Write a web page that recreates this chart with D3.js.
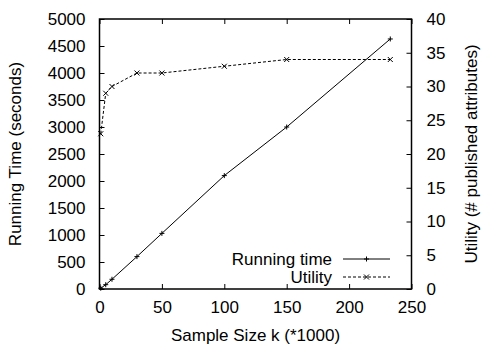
<!DOCTYPE html>
<html>
<head>
<meta charset="utf-8">
<script src="https://cdn.jsdelivr.net/npm/d3@7"></script>
<style>
  body { margin: 0; background: #fff; }
  svg text { font-family: "Liberation Sans", Arial, sans-serif; fill: #000; }
</style>
</head>
<body>
<div id="chart"></div>
<script>
// Sample sizes (k, in thousands)
const sampleSizes = [1, 5, 10, 30, 50, 100, 150, 233];
// Running time in seconds
const runningTime = [15, 80, 180, 600, 1030, 2100, 3000, 4630];
// Utility (# published attributes)
const utility = [23, 29, 30, 32, 32, 33, 34, 34];

const xTicks = [0, 50, 100, 150, 200, 250];
const yTicks = d3.range(0, 5001, 500);
const y2Ticks = d3.range(0, 41, 5);

const width = 483, height = 345;
const margins = {top: 19, right: 71.5, bottom: 56, left: 99.5};
const fontSize = 17;

const svg = d3.select("#chart")
  .append("svg")
  .attr("width", width)
  .attr("height", height)
  .attr("viewBox", [0, 0, width, height]);

const xScale = d3.scaleLinear()
  .domain([0, 250])
  .range([margins.left, width - margins.right]);

const yScale = d3.scaleLinear()
  .domain([0, 5000])
  .range([height - margins.bottom, margins.top]);

const y2Scale = d3.scaleLinear()
  .domain([0, 40])
  .range([height - margins.bottom, margins.top]);

// Axes, gnuplot style: ticks pointing inward
const styleAxis = g => {
  g.select(".domain").remove();
  g.selectAll("line").attr("stroke", "#000").attr("stroke-width", 1);
  g.selectAll("text").style("font-size", fontSize + "px").attr("fill", "#000");
};
const fmt = d3.format("d");

svg.append("g")
  .attr("transform", `translate(0,${height - margins.bottom})`)
  .call(d3.axisBottom(xScale).tickValues(xTicks).tickFormat(fmt).tickSizeInner(-5).tickSizeOuter(0).tickPadding(12))
  .call(styleAxis);

svg.append("g")
  .attr("transform", `translate(0,${margins.top})`)
  .call(d3.axisTop(xScale).tickValues(xTicks).tickSizeInner(-5).tickSizeOuter(0).tickFormat(""))
  .call(styleAxis);

svg.append("g")
  .attr("transform", `translate(${margins.left},0)`)
  .call(d3.axisLeft(yScale).tickValues(yTicks).tickFormat(fmt).tickSizeInner(-5).tickSizeOuter(0).tickPadding(14))
  .call(styleAxis);

svg.append("g")
  .attr("transform", `translate(${width - margins.right},0)`)
  .call(d3.axisRight(y2Scale).tickValues(y2Ticks).tickFormat(fmt).tickSizeInner(-5).tickSizeOuter(0).tickPadding(15))
  .call(styleAxis);

// Frame
svg.append("rect")
  .attr("x", margins.left)
  .attr("y", margins.top)
  .attr("width", width - margins.left - margins.right)
  .attr("height", height - margins.top - margins.bottom)
  .attr("fill", "none")
  .attr("stroke", "#000")
  .attr("stroke-width", 1.5);

// Axis titles
svg.append("text")
  .attr("x", (margins.left + width - margins.right) / 2)
  .attr("y", 335)
  .attr("dy", "0.35em")
  .attr("text-anchor", "middle")
  .style("font-size", fontSize + "px")
  .text("Sample Size k (*1000)");

svg.append("text")
  .attr("transform", `translate(14.7,${(margins.top + height - margins.bottom) / 2}) rotate(-90)`)
  .attr("dy", "0.35em")
  .attr("text-anchor", "middle")
  .style("font-size", fontSize + "px")
  .text("Running Time (seconds)");

svg.append("text")
  .attr("transform", `translate(471,${(margins.top + height - margins.bottom) / 2}) rotate(-90)`)
  .attr("dy", "0.35em")
  .attr("text-anchor", "middle")
  .style("font-size", fontSize + "px")
  .text("Utility (# published attributes)");

// Series
const timeData = sampleSizes.map((k, i) => ({k, v: runningTime[i]}));
const utilData = sampleSizes.map((k, i) => ({k, v: utility[i]}));

const timeLine = d3.line().x(d => xScale(d.k)).y(d => yScale(d.v));
const utilLine = d3.line().x(d => xScale(d.k)).y(d => y2Scale(d.v));

svg.append("path")
  .datum(timeData)
  .attr("d", timeLine)
  .attr("fill", "none")
  .attr("stroke", "#000")
  .attr("stroke-width", 1);

svg.append("path")
  .datum(utilData)
  .attr("d", utilLine)
  .attr("fill", "none")
  .attr("stroke", "#000")
  .attr("stroke-width", 1)
  .attr("stroke-dasharray", "3,2");

const plusPath = (x, y, s) => `M${x - s},${y}H${x + s}M${x},${y - s}V${y + s}`;
const crossPath = (x, y, s) => `M${x - s},${y - s}L${x + s},${y + s}M${x - s},${y + s}L${x + s},${y - s}`;

svg.selectAll("path.plus")
  .data(timeData)
  .join("path")
    .attr("class", "plus")
    .attr("d", d => plusPath(xScale(d.k), yScale(d.v), 2.5))
    .attr("stroke", "#000")
    .attr("stroke-width", 1);

svg.selectAll("path.cross")
  .data(utilData)
  .join("path")
    .attr("class", "cross")
    .attr("d", d => crossPath(xScale(d.k), y2Scale(d.v), 2.5))
    .attr("stroke", "#000")
    .attr("stroke-width", 1);

// Legend
const legend = [
  {label: "Running time", dash: null, marker: plusPath, y: 259},
  {label: "Utility", dash: "3,2", marker: crossPath, y: 277}
];
legend.forEach(d => {
  svg.append("text")
    .attr("x", 332)
    .attr("y", d.y)
    .attr("dy", "0.35em")
    .attr("text-anchor", "end")
    .style("font-size", fontSize + "px")
    .text(d.label);
  svg.append("line")
    .attr("x1", 343).attr("x2", 390)
    .attr("y1", d.y).attr("y2", d.y)
    .attr("stroke", "#000")
    .attr("stroke-width", 1)
    .attr("stroke-dasharray", d.dash);
  svg.append("path")
    .attr("d", d.marker(366.5, d.y, 2.5))
    .attr("stroke", "#000")
    .attr("stroke-width", 1);
});
</script>
</body>
</html>
